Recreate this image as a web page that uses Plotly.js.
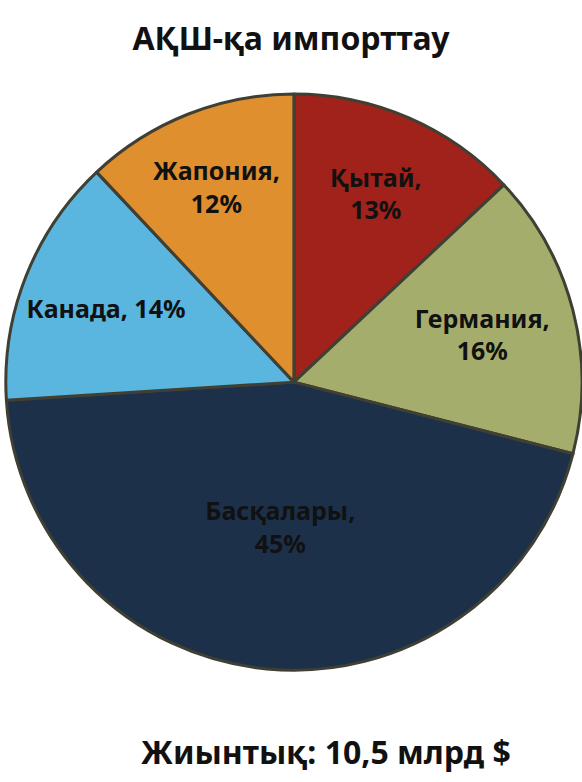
<!DOCTYPE html>
<html>
<head>
<meta charset="utf-8">
<script src="https://cdn.plot.ly/plotly-3.0.1.min.js"></script>
<style>html,body{margin:0;padding:0;background:#fff;}#chart{width:582px;height:782px;}</style>
</head>
<body>
<div id="chart"></div>
<script>
const labels = ["Қытай", "Германия", "Басқалары", "Канада", "Жапония"];
const values = [13, 16, 45, 14, 12];
const colors = ["#a1221b", "#a5ad6c", "#1c3049", "#5ab5df", "#df8f2d"];
const titleText = "АҚШ-қа импорттау";
const totalText = "Жиынтық: 10,5 млрд $";

const texts = labels.map((l, i) => l === "Канада" ? l + ", " + values[i] + "%" : l + ",<br>" + values[i] + "%");

Plotly.newPlot("chart", [{
  type: "pie",
  labels: labels,
  values: values,
  text: texts,
  textinfo: "text",
  hoverinfo: "none",
  sort: false,
  direction: "clockwise",
  rotation: 0,
  textposition: "inside",
  insidetextorientation: "horizontal",
  marker: {colors: colors, line: {color: "#3f3f34", width: 3}},
  textfont: {family: "Noto Sans", size: 25, color: "#111111", weight: "bold"},
  domain: {x: [0.01, 1], y: [0.1407, 0.882]}
}], {
  width: 582,
  height: 782,
  margin: {l: 0, r: 0, t: 0, b: 0},
  paper_bgcolor: "#ffffff",
  showlegend: false,
  uniformtext: {mode: "show", minsize: 25},
  title: {text: "<b>" + titleText + "</b>", x: 0.5, xanchor: "center", y: 0.951, yanchor: "middle",
          font: {family: "Noto Sans", size: 32, color: "#111111"}},
  annotations: [{
    text: "<b>" + totalText + "</b>", xref: "paper", yref: "paper", x: 0.56, y: 0.039,
    xanchor: "center", yanchor: "middle", showarrow: false,
    font: {family: "Noto Sans", size: 32, color: "#111111"}
  }]
}, {staticPlot: true});
</script>
</body>
</html>
